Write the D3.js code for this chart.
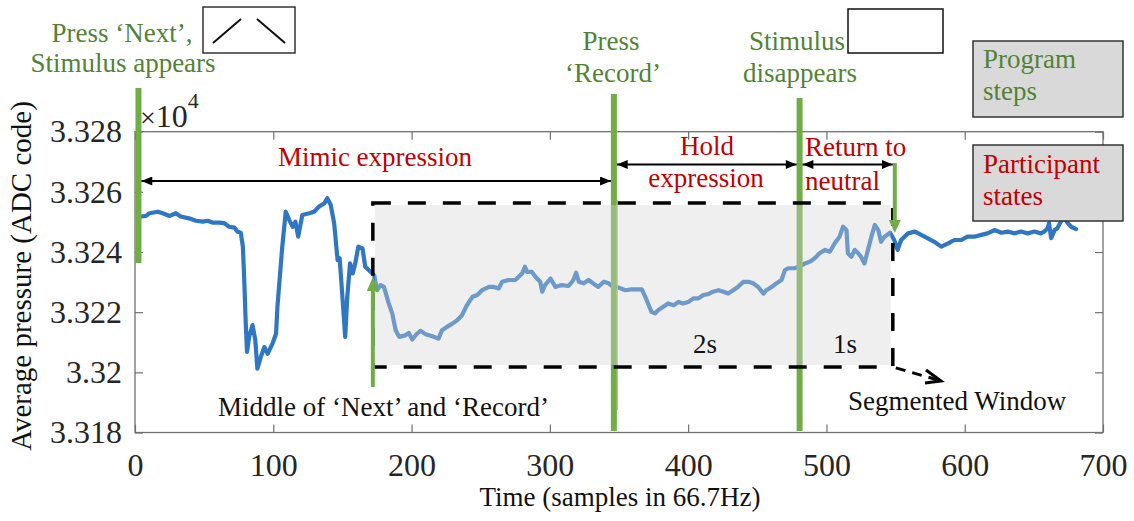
<!DOCTYPE html>
<html>
<head>
<meta charset="utf-8">
<script src="https://cdn.jsdelivr.net/npm/d3@7"></script>
<style>
body { margin: 0; background: #fff; }
svg { font-family: "Liberation Serif", "Times New Roman", serif; }
.step { fill: #548235; font-size: 27px; }
.state { fill: #c00000; font-size: 27px; }
.note { fill: #111; font-size: 27px; }
</style>
</head>
<body>
<svg width="1134" height="521"></svg>
<script>
const samples = [
  3, 4.5, 8, 10.5, 16.5, 20, 25, 29.5, 33, 39,
  44, 49, 52.5, 56, 61, 64.5, 68, 72, 74, 76.5,
  78, 79, 80, 81, 82.5, 85, 87, 88.5, 91, 93.5,
  96, 99.5, 102, 103, 106.5, 109, 111.5, 114, 116, 118,
  121, 126, 129.5, 133, 137, 139, 141.5, 144, 146.5, 148,
  150, 152, 153.5, 155.5, 157.5, 159.5, 161.5, 164.5, 166.5, 169,
  173, 175, 177.5, 180, 183.5, 186, 188.5, 191, 195.5, 198,
  200.5, 204, 206.5, 210, 215, 219.5, 222, 225.5, 229.5, 233,
  236.5, 240, 244, 247.5, 251, 256, 259.5, 263, 265.5, 270,
  275, 277.5, 280, 282, 283.5, 287, 289.5, 293, 294.5, 296.5,
  300.5, 304, 308.5, 313.5, 317, 319, 321, 324.5, 328, 333,
  335, 339, 342.5, 345, 349.5, 354.5, 359, 366.5, 369, 371.5,
  373.5, 376, 378.5, 382, 385.5, 389.5, 393, 396.5, 400, 404,
  407.5, 411, 414.5, 418, 422, 425.5, 429, 432.5, 436, 440,
  443.5, 447, 450.5, 454.5, 456.5, 460.5, 464, 467.5, 470, 472.5,
  477, 481, 484.5, 488, 491.5, 495, 499, 502.5, 506, 509.5,
  512, 514.5, 515.5, 518, 520.5, 523, 525, 527.5, 530, 532.5,
  535, 537.5, 539.5, 542, 546, 549, 551.5, 554, 559, 564,
  568.5, 573, 578, 583, 588, 592.5, 597.5, 602, 607, 612,
  616.5, 621.5, 626.5, 631, 636, 640.5, 645.5, 650.5, 655, 657.5,
  660, 661, 662.5, 665, 667, 669.5, 672, 674.5, 677, 680.5
];
const pressure = [
  3.32515, 3.32518, 3.3252, 3.32529, 3.32534, 3.32529, 3.3252, 3.32529, 3.32518, 3.32512,
  3.32504, 3.32501, 3.32504, 3.32498, 3.32498, 3.32496, 3.32484, 3.32481, 3.32468, 3.32464,
  3.32418, 3.32307, 3.32173, 3.32068, 3.32118, 3.32157, 3.32107, 3.32012, 3.32051, 3.32084,
  3.32062, 3.32096, 3.32129, 3.32218, 3.32418, 3.32534, 3.32507, 3.32484, 3.32501, 3.32451,
  3.32523, 3.32529, 3.32534, 3.32551, 3.32562, 3.32579, 3.32557, 3.32496, 3.32373, 3.32379,
  3.32251, 3.32118, 3.32251, 3.32362, 3.32329, 3.32368, 3.32418, 3.32412, 3.32351, 3.3234,
  3.32323, 3.32273, 3.3229, 3.32284, 3.32229, 3.32196, 3.3214, 3.32118, 3.32123, 3.32131,
  3.32109, 3.32129, 3.32138, 3.32127, 3.3212, 3.32112, 3.3214, 3.32151, 3.32162, 3.32173,
  3.3219, 3.32223, 3.32251, 3.32257, 3.32273, 3.32284, 3.32284, 3.32279, 3.32301, 3.32307,
  3.32307, 3.32318, 3.32329, 3.32351, 3.32334, 3.32334, 3.32318, 3.32301, 3.32268, 3.3229,
  3.32312, 3.32284, 3.3229, 3.32287, 3.32307, 3.32331, 3.32301, 3.32296, 3.32307, 3.3229,
  3.32284, 3.32301, 3.32296, 3.32287, 3.32282, 3.32273, 3.32276, 3.32276, 3.32251, 3.32223,
  3.32201, 3.32196, 3.32207, 3.32218, 3.32229, 3.32223, 3.32234, 3.32229, 3.32234, 3.32246,
  3.32246, 3.32257, 3.3226, 3.32268, 3.32273, 3.32268, 3.32262, 3.32273, 3.32284, 3.32301,
  3.32301, 3.32296, 3.32284, 3.32262, 3.32273, 3.32284, 3.32296, 3.32307, 3.3234, 3.32346,
  3.32346, 3.32353, 3.32362, 3.32368, 3.32379, 3.32396, 3.32407, 3.32401, 3.32429, 3.32451,
  3.32484, 3.32473, 3.32396, 3.32384, 3.32407, 3.32396, 3.32384, 3.32362, 3.32407, 3.32451,
  3.3249, 3.32473, 3.32434, 3.32451, 3.32464, 3.3244, 3.32407, 3.3244, 3.32462, 3.32468,
  3.32457, 3.32446, 3.32434, 3.32418, 3.32429, 3.3244, 3.3244, 3.32451, 3.32451, 3.32457,
  3.32462, 3.32473, 3.32464, 3.32468, 3.32462, 3.32468, 3.32462, 3.32468, 3.32462, 3.32468,
  3.32479, 3.32496, 3.32446, 3.32473, 3.32479, 3.32501, 3.32513, 3.32496, 3.32484, 3.32476
];

const xTicks = [0, 100, 200, 300, 400, 500, 600, 700];
const yTicks = [3.318, 3.32, 3.322, 3.324, 3.326, 3.328];
const yTickLabels = ["3.318", "3.32", "3.322", "3.324", "3.326", "3.328"];

// program steps: press Next, press Record, stimulus disappears (sample index)
const stepSamples = [2.5, 346.3, 480.6];
const middleSample = 172;     // middle of Next and Record
const windowEnd = 548;        // end of segmented window
const windowRange = [3.32018, 3.32563];

drawChart();

function drawChart() {
  const svg = d3.select("svg");
  const left = 135, right = 1103, top = 131.7, bottom = 432.5;

  const x = d3.scaleLinear().domain([0, 700]).range([left, right]);
  const y = d3.scaleLinear().domain([3.318, 3.328]).range([bottom, top]);

  const axisColor = "#707070";
  const labelColor = "#262626";

  // defs: black arrow head
  svg.append("defs").append("marker")
      .attr("id", "ah")
      .attr("viewBox", "0 0 12 10")
      .attr("refX", 12).attr("refY", 5)
      .attr("markerWidth", 12).attr("markerHeight", 9)
      .attr("markerUnits", "userSpaceOnUse")
      .attr("orient", "auto-start-reverse")
    .append("path")
      .attr("d", "M0,0 L12,5 L0,10 Z")
      .attr("fill", "#000");

  // axes
  const gx = svg.append("g")
      .attr("transform", "translate(0," + bottom + ")")
      .call(d3.axisBottom(x).tickValues(xTicks).tickSizeInner(-8).tickSizeOuter(0).tickPadding(21));
  const gy = svg.append("g")
      .attr("transform", "translate(" + left + ",0)")
      .call(d3.axisLeft(y).tickValues(yTicks).tickFormat((d, i) => yTickLabels[i])
            .tickSizeInner(-8).tickSizeOuter(0).tickPadding(13));
  const gt = svg.append("g")
      .attr("transform", "translate(0," + top + ")")
      .call(d3.axisTop(x).tickValues(xTicks).tickSizeInner(-8).tickSizeOuter(0).tickFormat(""));
  const gr = svg.append("g")
      .attr("transform", "translate(" + right + ",0)")
      .call(d3.axisRight(y).tickValues(yTicks).tickSizeInner(-8).tickSizeOuter(0).tickFormat(""));

  [gx, gy, gt, gr].forEach(g => {
    g.select(".domain").remove();
    g.attr("font-family", null).attr("font-size", 32);
    g.selectAll(".tick line").attr("stroke", axisColor).attr("stroke-width", 1.2);
    g.selectAll(".tick text").attr("fill", labelColor);
  });

  svg.append("rect")
      .attr("x", left).attr("y", top)
      .attr("width", right - left).attr("height", bottom - top)
      .attr("fill", "none")
      .attr("stroke", axisColor)
      .attr("stroke-width", 1.3);

  // x10^4
  const mult = svg.append("text")
      .attr("x", 140).attr("y", 127)
      .attr("fill", labelColor);
  mult.append("tspan").attr("font-size", 28).text("×");
  mult.append("tspan").attr("font-size", 32).text("10");
  mult.append("tspan").attr("font-size", 22).attr("dy", -19).text("4");

  // axis labels
  svg.append("text")
      .attr("transform", "translate(31,276) rotate(-90)")
      .attr("text-anchor", "middle")
      .attr("font-size", 29)
      .attr("fill", "#111")
      .text("Average pressure (ADC code)");

  svg.append("text")
      .attr("x", 620).attr("y", 506)
      .attr("text-anchor", "middle")
      .attr("font-size", 27)
      .attr("fill", "#111")
      .text("Time (samples in 66.7Hz)");

  // pressure trace
  const line = d3.line()
      .x(i => x(samples[i]))
      .y(i => y(pressure[i]));
  svg.append("path")
      .attr("d", line(d3.range(samples.length)))
      .attr("fill", "none")
      .attr("stroke", "#2f77c3")
      .attr("stroke-width", 4.2)
      .attr("stroke-linejoin", "round")
      .attr("stroke-linecap", "round");

  // program step bars
  const barTops = [88, 94, 98];
  const barBottoms = [263, 431, 431];
  stepSamples.forEach((s, i) => {
    svg.append("line")
        .attr("x1", x(s)).attr("x2", x(s))
        .attr("y1", barTops[i]).attr("y2", barBottoms[i])
        .attr("stroke", "#70ad47")
        .attr("stroke-width", 6);
  });
  svg.append("line")
      .attr("x1", x(stepSamples[1]) + 3.5).attr("x2", x(stepSamples[1]) + 3.5)
      .attr("y1", 200).attr("y2", 410)
      .attr("stroke", "#e8a36a")
      .attr("stroke-width", 1);

  // segmented window (translucent grey over the trace)
  const wx0 = x(middleSample), wx1 = x(windowEnd);
  const wy0 = y(windowRange[1]), wy1 = y(windowRange[0]);
  svg.append("rect")
      .attr("x", wx0 + 2).attr("y", wy0 + 2)
      .attr("width", wx1 - wx0 - 4).attr("height", wy1 - wy0 - 4)
      .attr("fill", "rgb(213,213,213)")
      .attr("fill-opacity", 0.38);
  svg.append("rect")
      .attr("x", wx0).attr("y", wy0)
      .attr("width", wx1 - wx0).attr("height", wy1 - wy0)
      .attr("fill", "none")
      .attr("stroke", "#000")
      .attr("stroke-width", 3.5)
      .attr("stroke-dasharray", "18,17");

  // dashed pointer to "Segmented Window"
  svg.append("line")
      .attr("x1", wx1 + 3).attr("y1", wy1 + 1)
      .attr("x2", 938).attr("y2", 380)
      .attr("stroke", "#000").attr("stroke-width", 3)
      .attr("stroke-dasharray", "10,7");
  svg.append("path")
      .attr("d", "M926,370 L941,381 L925,383")
      .attr("fill", "none").attr("stroke", "#000").attr("stroke-width", 3);

  // green arrows
  const gx0 = x(middleSample);
  svg.append("line")
      .attr("x1", gx0).attr("x2", gx0)
      .attr("y1", 387).attr("y2", 288)
      .attr("stroke", "#70ad47").attr("stroke-width", 4);
  svg.append("path")
      .attr("d", `M${gx0 - 6},291 L${gx0},277 L${gx0 + 6},291 Z`)
      .attr("fill", "#70ad47");
  const gx1 = x(windowEnd) + 2;
  svg.append("line")
      .attr("x1", gx1).attr("x2", gx1)
      .attr("y1", 163).attr("y2", 223)
      .attr("stroke", "#70ad47").attr("stroke-width", 4);
  svg.append("path")
      .attr("d", `M${gx1 - 6},220 L${gx1},233 L${gx1 + 6},220 Z`)
      .attr("fill", "#70ad47");

  // double arrows for participant states
  const spans = [
    [x(stepSamples[0]) + 3, x(stepSamples[1]) - 3, 181],
    [x(stepSamples[1]) + 3, x(stepSamples[2]) - 3, 164.5],
    [x(stepSamples[2]) + 3, gx1 - 2, 164.5]
  ];
  spans.forEach(s => {
    svg.append("line")
        .attr("x1", s[0]).attr("x2", s[1])
        .attr("y1", s[2]).attr("y2", s[2])
        .attr("stroke", "#000").attr("stroke-width", 2)
        .attr("marker-start", "url(#ah)")
        .attr("marker-end", "url(#ah)");
  });

  // icon boxes
  svg.append("rect")
      .attr("x", 203).attr("y", 7).attr("width", 92).attr("height", 46)
      .attr("fill", "#fff").attr("stroke", "#333").attr("stroke-width", 1.5);
  svg.append("path")
      .attr("d", "M213,43 L241,19 M257,19 L285,43")
      .attr("stroke", "#111").attr("stroke-width", 2).attr("fill", "none");
  svg.append("rect")
      .attr("x", 848).attr("y", 9).attr("width", 95).attr("height", 44)
      .attr("fill", "#fff").attr("stroke", "#111").attr("stroke-width", 1.5);

  // legend boxes
  [[41, 76], [145, 76]].forEach(b => {
    svg.append("rect")
        .attr("x", 973).attr("y", b[0]).attr("width", 150).attr("height", b[1])
        .attr("fill", "#d9d9d9").attr("stroke", "#333").attr("stroke-width", 1.5);
  });

  // text labels
  const label = (cls, tx, ty, anchor, str) =>
    svg.append("text").attr("class", cls)
        .attr("x", tx).attr("y", ty)
        .attr("text-anchor", anchor)
        .text(str);

  label("step", 122, 42, "middle", "Press ‘Next’,");
  label("step", 123, 72, "middle", "Stimulus appears");
  label("step", 611, 50, "middle", "Press");
  label("step", 613, 82, "middle", "‘Record’");
  label("step", 797, 50, "middle", "Stimulus");
  label("step", 800, 82, "middle", "disappears");
  label("step", 983, 68, "start", "Program");
  label("step", 983, 100, "start", "steps");

  label("state", 375, 166, "middle", "Mimic expression");
  label("state", 707, 155, "middle", "Hold");
  label("state", 706, 187, "middle", "expression");
  label("state", 805, 156, "start", "Return to");
  label("state", 805, 190, "start", "neutral");
  label("state", 983, 173, "start", "Participant");
  label("state", 983, 205, "start", "states");

  label("note", 705, 353, "middle", "2s");
  label("note", 845, 353, "middle", "1s");
  label("note", 218, 416, "start", "Middle of ‘Next’ and ‘Record’");
  label("note", 848, 410, "start", "Segmented Window");
}
</script>
</body>
</html>
